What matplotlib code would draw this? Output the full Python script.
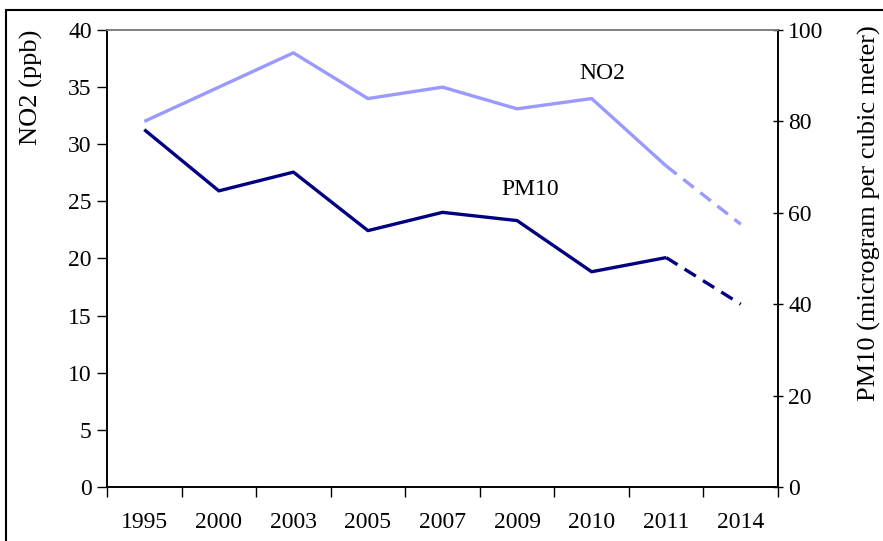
import matplotlib
matplotlib.use("Agg")
import matplotlib.pyplot as plt
from matplotlib.patches import Rectangle
import numpy as np

years = ["1995", "2000", "2003", "2005", "2007", "2009", "2010", "2011", "2014"]
no2 = [32.0, 35.0, 38.0, 34.0, 35.0, 33.1, 34.0, 28.1, 23.0]
pm10 = [78.2, 64.8, 68.9, 56.1, 60.1, 58.3, 47.1, 50.2, 40.0]

plt.rcParams['font.family'] = ['Liberation Serif', 'DejaVu Serif']

W, H = 883, 541
fig = plt.figure(figsize=(W / 100, H / 100), dpi=100)
ax = fig.add_axes([107 / W, 1 - 487 / H, (778 - 107) / W, (487 - 30) / H])
ax2 = ax.twinx()

x = np.arange(len(years))
c_no2 = "#9999FF"
c_pm = "#000080"
lw = 2.4
fs = 17

ax.plot(x[:-1], no2[:-1], color=c_no2, lw=lw, solid_capstyle='butt', zorder=3)
ax.plot(x[-2:], no2[-2:], color=c_no2, lw=lw, ls=(0, (4, 2.5)), dash_capstyle='butt', zorder=3)
ax2.plot(x[:-1], pm10[:-1], color=c_pm, lw=lw, solid_capstyle='butt', zorder=3)
ax2.plot(x[-2:], pm10[-2:], color=c_pm, lw=lw, ls=(0, (4, 2.5)), dash_capstyle='butt', zorder=3)

ax.set_xlim(-0.5, len(years) - 0.5)
ax.set_ylim(0, 40)
ax2.set_ylim(0, 100)

ax.set_yticks(np.arange(0, 41, 5))
ax2.set_yticks(np.arange(0, 101, 20))
ax.set_xticks(x)
ax.set_xticklabels(years)
ax.set_xticks(np.arange(-0.5, len(years), 1), minor=True)

ax.tick_params(axis='x', which='major', length=0, pad=18, labelsize=fs)
ax.tick_params(axis='x', which='minor', length=7, width=1, direction='out')
ax.tick_params(axis='y', length=7, width=1, direction='out', labelsize=fs, pad=4)
ax2.tick_params(axis='y', length=7, width=1, direction='inout', labelsize=fs, pad=4)

for a in (ax, ax2):
    a.spines['top'].set_color('#808080')
    a.spines['top'].set_linewidth(1.2)
    a.spines['left'].set_linewidth(1.2)
    a.spines['right'].set_linewidth(1.2)
    a.spines['bottom'].set_linewidth(1.2)

ax.set_ylabel("NO2 (ppb)", fontsize=19, loc='top')
ax.yaxis.set_label_coords(-64 / 671, 1.0)
ax2.set_ylabel("PM10 (microgram per cubic meter)", fontsize=19, loc='top')
ax2.yaxis.set_label_coords(1 + 80 / 671, 1.01)

ax.text(6.15, 36.2, "NO2", fontsize=fs, ha='center', va='center')
ax.text(5.17, 26.0, "PM10", fontsize=fs, ha='center', va='center')

fig.add_artist(Rectangle((6 / W, -0.1), 1.5, 1 - 10 / H + 0.1, fill=False,
                         lw=1.5, ec='black', transform=fig.transFigure))

fig.savefig("out.png", dpi=100)
